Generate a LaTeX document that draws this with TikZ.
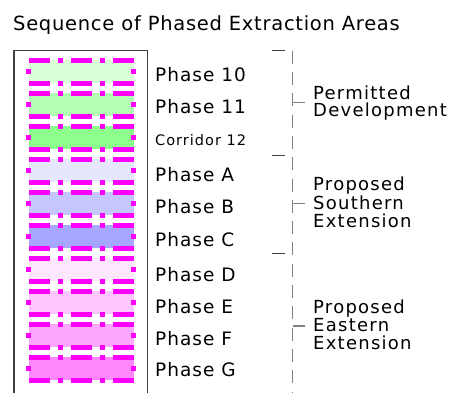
\documentclass[tikz,border=0pt]{standalone}
\usepackage{fontspec}
\setmainfont{DejaVu Sans}
\definecolor{mag}{HTML}{FF00FF}
\definecolor{pten}{RGB}{217,255,217}
\definecolor{peleven}{RGB}{179,255,179}
\definecolor{ctwelve}{RGB}{140,255,140}
\definecolor{pa}{RGB}{230,230,255}
\definecolor{pb}{RGB}{198,198,255}
\definecolor{pc}{RGB}{166,166,255}
\definecolor{pd}{RGB}{255,230,255}
\definecolor{pe}{RGB}{255,198,255}
\definecolor{pf}{RGB}{255,166,255}
\definecolor{pg}{RGB}{255,136,255}
\definecolor{boxgray}{HTML}{404040}
\definecolor{dashgray}{HTML}{808080}
\begin{document}
\begin{tikzpicture}[x=1pt,y=-1pt,
  band/.style={draw=none, inner sep=0pt, minimum width=105pt, minimum height=23pt},
  edgeh/.style={draw=mag, line width=5pt, dash pattern=on 21pt off 8pt on 5pt off 8pt},
  edgev/.style={draw=mag, line width=5pt, dash pattern=on 0pt off 9pt on 5pt off 30pt},
  lab/.style={anchor=base west, inner sep=0pt, font=\fontsize{18.5}{20}\selectfont\addfontfeatures{LetterSpace=5.5}},
  smalllab/.style={anchor=base west, inner sep=0pt, font=\fontsize{14.5}{16}\selectfont\addfontfeatures{LetterSpace=7}},
  grouplab/.style={anchor=base west, inner sep=0pt, font=\fontsize{18}{20}\selectfont\addfontfeatures{LetterSpace=7}},
  titlelab/.style={anchor=base west, inner sep=0pt, font=\fontsize{19.5}{22}\selectfont\addfontfeatures{LetterSpace=3.7}},
  legendbox/.style={draw=boxgray, line width=1.3pt},
  divider/.style={draw=dashgray, line width=1.5pt, dash pattern=on 13pt off 8.3pt},
  grouptick/.style={draw=boxgray, line width=1.3pt},
  labeltick/.style={draw=dashgray, line width=1.3pt}]
\useasboundingbox (0,0) rectangle (450,392);
\node[titlelab] (title) at (13,30) {Sequence of Phased Extraction Areas};
% legend frame
\coordinate (boxtl) at (14,50.7);
\coordinate (boxbr) at (147.5,400);
\draw[legendbox] (boxtl) rectangle (boxbr);
% bands
\foreach \i/\col in {0/pten,1/peleven,2/ctwelve,3/pa,4/pb,5/pc,6/pd,7/pe,8/pf,9/pg}{
  \pgfmathsetmacro\cy{71.8+33*\i}
  \node[band, fill=\col] (band\i) at (81.25,\cy) {};
  \draw[edgeh] (band\i.north west) -- (band\i.north east);
  \draw[edgeh] (band\i.south west) -- (band\i.south east);
  \draw[edgev] (band\i.north west) -- (band\i.south west);
  \draw[edgev] (band\i.north east) -- (band\i.south east);
}
% phase labels
\node[lab] (l10) at (155,81.7) {Phase 10};
\node[lab] (l11) at (155,113.3) {Phase 11};
\node[smalllab] (l12) at (155,145.7) {Corridor 12};
\node[lab] (lA) at (155,181.7) {Phase A};
\node[lab] (lB) at (155,213.3) {Phase B};
\node[lab] (lC) at (155,246.7) {Phase C};
\node[lab] (lD) at (155,281.7) {Phase D};
\node[lab] (lE) at (155,313.3) {Phase E};
\node[lab] (lF) at (155,345) {Phase F};
\node[lab] (lG) at (155,376.7) {Phase G};
% divider
\coordinate (dtop) at (292.7,50.7);
\coordinate (dbot) at (292.7,400);
\draw[divider] (dtop) -- (dbot);
% group start ticks
\coordinate (g1) at (285,50.7);
\coordinate (g2) at (285,155.3);
\coordinate (g3) at (285,253.3);
\draw[grouptick] (g1) -- ++(-13.3,0);
\draw[grouptick] (g2) -- ++(-13.3,0);
\draw[grouptick] (g3) -- ++(-13.3,0);
% group labels
\node[grouplab] (perm1) at (313,99) {Permitted};
\node[grouplab] (perm2) at (313,116.5) {Development};
\node[grouplab] (south1) at (313,190.7) {Proposed};
\node[grouplab] (south2) at (313,209) {Southern};
\node[grouplab] (south3) at (313,227.3) {Extension};
\node[grouplab] (east1) at (313,313.3) {Proposed};
\node[grouplab] (east2) at (313,331.3) {Eastern};
\node[grouplab] (east3) at (313,349.3) {Extension};
% label ticks
\coordinate (t1) at (292.7,102.7);
\coordinate (t2) at (292.7,203.3);
\coordinate (t3) at (292.7,326);
\draw[labeltick] (t1) -- ++(12.3,0);
\draw[labeltick] (t2) -- ++(12.3,0);
\draw[labeltick] (t3) -- ++(12.3,0);
\end{tikzpicture}
\end{document}
